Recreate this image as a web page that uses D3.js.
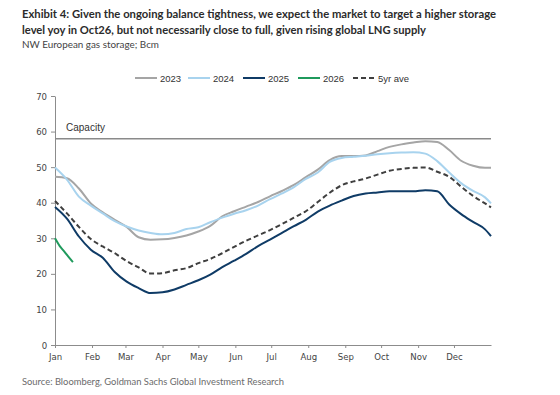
<!DOCTYPE html>
<html>
<head>
<meta charset="utf-8">
<script src="https://d3js.org/d3.v7.min.js"></script>
<style>
  body { margin: 0; background: #fff; }
  svg { display: block; }
  .axis text { font-family: "Liberation Sans Narrow", "DejaVu Sans Condensed", Arial, sans-serif; font-size: 9.5px; fill: #444; }
  .axis path, .axis line { stroke: #8c8c8c; }
</style>
</head>
<body>
<svg width="560" height="395"></svg>
<script>

// day of year grid used for all full-year series
var days = [0, 10, 20, 30, 40, 50, 60, 70, 80, 90, 100, 110, 120, 130, 140, 150, 160, 170, 180,
            190, 200, 210, 220, 230, 240, 250, 260, 270, 280, 290, 300, 310, 320, 330, 340, 350, 360, 365];

var s2023 = [47.3, 46.9, 44.0, 39.8, 37.3, 35.2, 33.2, 30.3, 29.6, 29.7, 30.1, 30.8, 31.9, 33.5, 36.2, 37.6, 38.9, 40.2, 41.8,
             43.3, 45.0, 47.2, 49.3, 52.0, 53.1, 53.1, 53.3, 54.5, 55.7, 56.4, 56.9, 57.3, 57.1, 54.8, 51.8, 50.4, 49.8, 49.8];

var s2024 = [49.9, 46.5, 41.7, 39.2, 37.0, 34.8, 33.3, 32.2, 31.5, 31.1, 31.5, 32.6, 33.1, 34.5, 35.8, 36.9, 37.9, 39.2, 41.0,
             42.6, 44.4, 46.7, 48.5, 51.5, 52.6, 52.9, 53.2, 53.6, 53.9, 54.1, 54.2, 53.8, 51.7, 48.5, 45.5, 43.3, 41.5, 39.8];

var s2025 = [38.8, 35.5, 30.5, 26.8, 24.5, 20.5, 17.8, 16.0, 14.6, 14.8, 15.6, 16.9, 18.2, 19.8, 21.9, 23.7, 25.6, 27.8, 29.6,
             31.5, 33.4, 35.2, 37.5, 39.2, 40.6, 41.9, 42.6, 42.9, 43.2, 43.2, 43.2, 43.5, 43.2, 39.5, 36.8, 34.6, 32.5, 30.6];

var avg5 = [40.5, 37.0, 33.2, 29.8, 27.7, 25.8, 23.6, 21.8, 20.1, 20.2, 21.0, 21.6, 23.0, 24.2, 25.8, 27.6, 29.3, 30.8, 32.3,
            34.0, 35.8, 37.6, 40.2, 42.8, 44.9, 46.0, 46.8, 47.9, 49.0, 49.5, 49.8, 49.9, 48.7, 47.3, 44.5, 41.9, 39.8, 38.7];

var days2026 = [0, 4, 8, 11, 15];
var s2026 = [30.0, 27.8, 26.2, 24.9, 23.3];

var capacity = 58;

var monthStarts = [0, 31, 59, 90, 120, 151, 181, 212, 243, 273, 304, 334];
var monthNames = ["Jan", "Feb", "Mar", "Apr", "May", "Jun", "Jul", "Aug", "Sep", "Oct", "Nov", "Dec"];
var yTicks = [0, 10, 20, 30, 40, 50, 60, 70];

var series = [
  { name: "2023", days: days, values: s2023, color: "#a5a5a5", dash: null },
  { name: "2024", days: days, values: s2024, color: "#a8d3ee", dash: null },
  { name: "2025", days: days, values: s2025, color: "#0f3b66", dash: null },
  { name: "2026", days: days2026, values: s2026, color: "#1f9a5c", dash: null },
  { name: "5yr ave", days: days, values: avg5, color: "#3f3f3f", dash: "5,3" }
];

var svg = d3.select("svg");

var x = d3.scaleLinear().domain([0, 365]).range([55, 491]);
var y = d3.scaleLinear().domain([0, 70]).range([345, 96]);

// titles
var title = svg.append("g").style("font-family", "Lato, 'Open Sans', sans-serif");
title.append("text").attr("x", 22).attr("y", 17.5)
  .attr("font-weight", "bold").attr("font-size", 12).attr("fill", "#2b2b2b")
  .attr("textLength", 474).attr("lengthAdjust", "spacingAndGlyphs")
  .text("Exhibit 4: Given the ongoing balance tightness, we expect the market to target a higher storage");
title.append("text").attr("x", 22).attr("y", 33.5)
  .attr("font-weight", "bold").attr("font-size", 12).attr("fill", "#2b2b2b")
  .attr("textLength", 404).attr("lengthAdjust", "spacingAndGlyphs")
  .text("level yoy in Oct26, but not necessarily close to full, given rising global LNG supply");
title.append("text").attr("x", 22).attr("y", 47.5)
  .attr("font-size", 10).attr("fill", "#444")
  .attr("textLength", 137).attr("lengthAdjust", "spacingAndGlyphs")
  .text("NW European gas storage; Bcm");
title.append("text").attr("x", 22).attr("y", 385)
  .attr("font-size", 8.5).attr("fill", "#6b6b6b")
  .attr("textLength", 262).attr("lengthAdjust", "spacingAndGlyphs")
  .text("Source: Bloomberg, Goldman Sachs Global Investment Research");

// axes
svg.append("g").attr("class", "axis")
  .attr("transform", "translate(0,345)")
  .call(d3.axisBottom(x).tickValues(monthStarts)
    .tickFormat(function(d, i) { return monthNames[i]; })
    .tickSize(3).tickSizeOuter(0))
  .selectAll("text").attr("dy", "0.9em");

svg.append("g").attr("class", "axis")
  .attr("transform", "translate(55,0)")
  .call(d3.axisLeft(y).tickValues(yTicks).tickSize(4).tickSizeOuter(0))
  .selectAll("text").attr("dx", "-0.1em");

// capacity
svg.append("line")
  .attr("x1", x(0)).attr("x2", x(365))
  .attr("y1", y(capacity)).attr("y2", y(capacity))
  .attr("stroke", "#8a8a8a").attr("stroke-width", 1.6);
svg.append("text").attr("x", 66).attr("y", y(capacity) - 8)
  .attr("font-family", "'Liberation Sans Narrow', Arial, sans-serif")
  .attr("font-size", 10).attr("fill", "#333").text("Capacity");

// lines
var line = d3.line()
  .x(function(d) { return x(d[0]); })
  .y(function(d) { return y(d[1]); })
  .curve(d3.curveMonotoneX);

series.forEach(function(s) {
  var pts = s.days.map(function(d, i) { return [d, s.values[i]]; });
  svg.append("path")
    .datum(pts)
    .attr("fill", "none")
    .attr("stroke", s.color)
    .attr("stroke-width", 2)
    .attr("stroke-dasharray", s.dash)
    .attr("d", line);
});

// legend
var legX = [135, 188, 243, 298, 353];
var legend = svg.append("g").attr("transform", "translate(0,78)");
series.forEach(function(s, i) {
  legend.append("line")
    .attr("x1", legX[i]).attr("x2", legX[i] + 22)
    .attr("stroke", s.color).attr("stroke-width", 2)
    .attr("stroke-dasharray", s.dash);
  legend.append("text")
    .attr("x", legX[i] + 25).attr("y", 3.5)
    .attr("font-family", "'Liberation Sans Narrow', Arial, sans-serif")
    .attr("font-size", 9.5).attr("fill", "#333")
    .text(s.name);
});

</script>
</body>
</html>
